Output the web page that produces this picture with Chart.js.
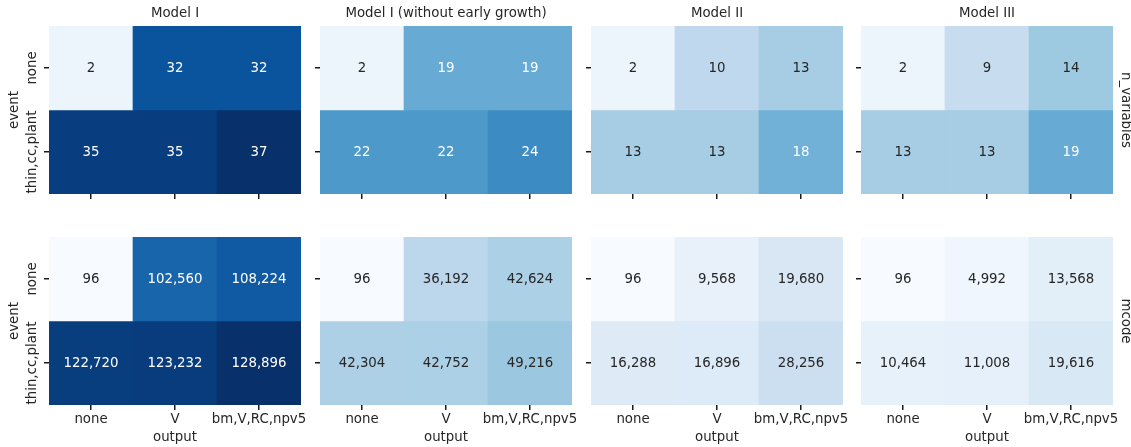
<!DOCTYPE html>
<html>
<head>
<meta charset="utf-8">
<script src="https://cdn.jsdelivr.net/npm/chart.js@4.4.1/dist/chart.umd.min.js"></script>
<style>
  html, body { margin: 0; padding: 0; background: #fff; }
  #wrap { position: relative; width: 1131px; height: 447px; overflow: hidden; background: #fff; }
  #wrap canvas { position: absolute; }
</style>
</head>
<body>
<div id="wrap"></div>
<script>
// Facet labels
const models = ['Model I', 'Model I (without early growth)', 'Model II', 'Model III'];
const metrics = ['n_variables', 'mcode'];
// Heatmap axes: rows = event, columns = output
const events = ['none', 'thin,cc,plant'];
const outputs = ['none', 'V', 'bm,V,RC,npv5'];

// Number of variables per model
const nVarsModelI     = [[2, 32, 32], [35, 35, 37]];
const nVarsModelINoEG = [[2, 19, 19], [22, 22, 24]];
const nVarsModelII    = [[2, 10, 13], [13, 13, 18]];
const nVarsModelIII   = [[2, 9, 14], [13, 13, 19]];

// mcode per model
const mcodeModelI     = [[96, 102560, 108224], [122720, 123232, 128896]];
const mcodeModelINoEG = [[96, 36192, 42624], [42304, 42752, 49216]];
const mcodeModelII    = [[96, 9568, 19680], [16288, 16896, 28256]];
const mcodeModelIII   = [[96, 4992, 13568], [10464, 11008, 19616]];

const grid = [
  [nVarsModelI, nVarsModelINoEG, nVarsModelII, nVarsModelIII],
  [mcodeModelI, mcodeModelINoEG, mcodeModelII, mcodeModelIII]
];

// ---- colour map (matplotlib "Blues") ----
const BLUES = ['#f7fbff', '#deebf7', '#c6dbef', '#9ecae1', '#6baed6', '#4292c6', '#2171b5', '#08519c', '#08306b']
  .map(h => [1, 3, 5].map(i => parseInt(h.substr(i, 2), 16)));
function blues(t) {
  t = Math.max(0, Math.min(1, t));
  const s = t * (BLUES.length - 1);
  const i = Math.min(Math.floor(s), BLUES.length - 2);
  const f = s - i;
  return [0, 1, 2].map(k => Math.round(BLUES[i][k] + (BLUES[i + 1][k] - BLUES[i][k]) * f));
}
function rgbStr(c) { return 'rgb(' + c.join(',') + ')'; }
function luminance(c) {
  const lin = c.map(v => { v /= 255; return v <= 0.03928 ? v / 12.92 : Math.pow((v + 0.055) / 1.055, 2.4); });
  return 0.2126 * lin[0] + 0.7152 * lin[1] + 0.0722 * lin[2];
}

// ---- layout ----
const PANEL_LEFT = [49, 320, 591, 861];
const PANEL_W = 252;
const ROW_TOP = [26, 237];
const PANEL_H = 168;
const TICK = 5;
const PAD = { l: 49, t: 26, r: 19, b: 42 };
const FONT = '13.33px "DejaVu Sans", sans-serif';
const TEXT = '#262626';

function drawText(ctx, s, x, y, rot, color) {
  ctx.save();
  ctx.translate(x, y);
  if (rot) ctx.rotate(rot);
  ctx.font = FONT;
  ctx.fillStyle = color || TEXT;
  ctx.textAlign = 'center';
  ctx.textBaseline = 'middle';
  ctx.fillText(s, 0, 0);
  ctx.restore();
}

const facetText = {
  id: 'facetText',
  afterDatasetsDraw(chart, args, opts) {
    const { ctx, chartArea: a, scales } = chart;
    const { row, col, values, vmax } = opts;

    // cell annotations
    chart.data.datasets.forEach((ds, d) => {
      chart.getDatasetMeta(d).data.forEach((el, i) => {
        const p = el.getProps(['x', 'y', 'base'], true);
        const v = values[d][i];
        const c = blues(v / vmax);
        drawText(ctx, v.toLocaleString('en-US'), p.x, (p.y + p.base) / 2 + 0.5,
                 0, luminance(c) > 0.408 ? TEXT : '#ffffff');
      });
    });

    const cx = (a.left + a.right) / 2;
    const cy = (a.top + a.bottom) / 2;

    if (row === 0) drawText(ctx, models[col], cx, a.top - 12.5, 0);

    if (col === 0) {
      events.forEach((e, i) => drawText(ctx, e, a.left - 16, scales.y.getPixelForTick(i), -Math.PI / 2));
      drawText(ctx, 'event', a.left - 34, cy, -Math.PI / 2);
    }
    if (col === models.length - 1) {
      drawText(ctx, metrics[row], a.right + 12, cy, Math.PI / 2);
    }
    if (row === metrics.length - 1) {
      outputs.forEach((o, i) => drawText(ctx, o, scales.x.getPixelForTick(i), a.bottom + 15, 0));
      drawText(ctx, 'output', cx, a.bottom + 33, 0);
    }
  }
};

const wrap = document.getElementById('wrap');

grid.forEach((rowData, r) => {
  const vmax = Math.max(...rowData.flat().flat());
  rowData.forEach((values, c) => {
    const canvas = document.createElement('canvas');
    const w = PANEL_W + PAD.l + PAD.r;
    const h = PANEL_H + PAD.t + PAD.b;
    canvas.width = w; canvas.height = h;
    canvas.style.width = w + 'px'; canvas.style.height = h + 'px';
    canvas.style.left = (PANEL_LEFT[c] - PAD.l) + 'px';
    canvas.style.top = (ROW_TOP[r] - PAD.t) + 'px';
    wrap.appendChild(canvas);

    // one floating-bar dataset per event row, spanning [row, row + 1]
    const datasets = events.map((e, ei) => ({
      label: e,
      data: outputs.map(() => [ei, ei + 1]),
      backgroundColor: values[ei].map(v => rgbStr(blues(v / vmax))),
      borderWidth: 0,
      grouped: false,
      barPercentage: 1,
      categoryPercentage: 1
    }));

    new Chart(canvas, {
      type: 'bar',
      data: { labels: outputs, datasets },
      options: {
        responsive: false,
        animation: false,
        devicePixelRatio: 1,
        events: [],
        layout: {
          autoPadding: false,
          padding: { left: PAD.l - TICK, top: PAD.t, right: PAD.r, bottom: PAD.b - TICK }
        },
        plugins: {
          legend: { display: false },
          tooltip: { enabled: false },
          facetText: { row: r, col: c, values, vmax }
        },
        scales: {
          x: {
            type: 'category',
            offset: true,
            border: { display: false },
            grid: { display: true, offset: false, drawOnChartArea: false, drawTicks: true,
                    tickLength: TICK, color: '#1a1a1a', lineWidth: 1.5 },
            ticks: { display: false }
          },
          y: {
            type: 'linear',
            min: 0,
            max: events.length,
            reverse: true,
            border: { display: false },
            grid: { display: true, drawOnChartArea: false, drawTicks: true,
                    tickLength: TICK, color: '#1a1a1a', lineWidth: 1.5 },
            ticks: { display: false },
            afterBuildTicks(scale) {
              scale.ticks = events.map((e, i) => ({ value: i + 0.5 }));
            }
          }
        }
      },
      plugins: [facetText]
    });
  });
});
</script>
</body>
</html>
